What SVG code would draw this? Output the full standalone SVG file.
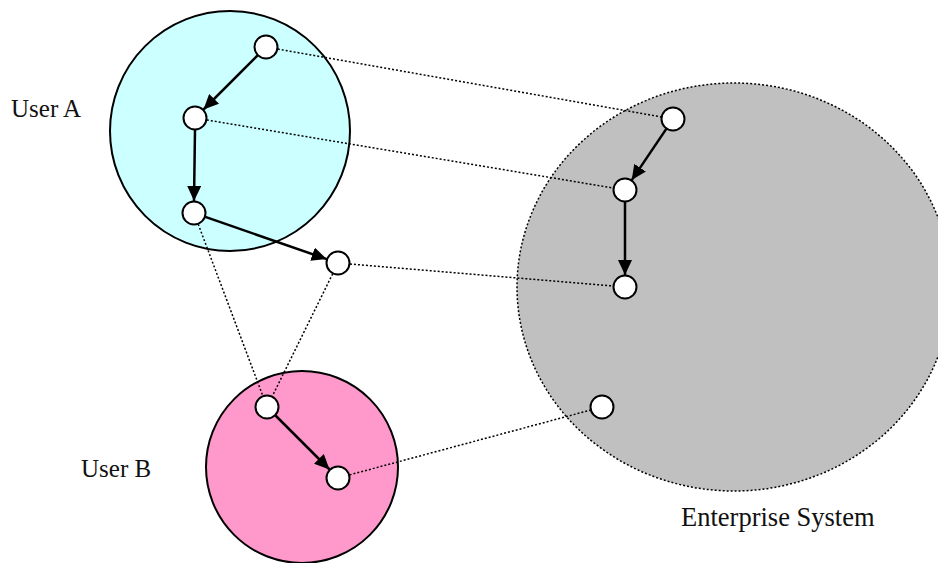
<svg xmlns="http://www.w3.org/2000/svg" width="938" height="563" viewBox="0 0 938 563">
<defs>
<style>
.lbl{font-family:"Liberation Serif","Times New Roman",serif;font-size:25px;fill:#111}
.node{fill:#fff;stroke:#000;stroke-width:2}
.dot{fill:none;stroke:#000;stroke-width:1.5;stroke-dasharray:2 2}
.arr{fill:none;stroke:#000;stroke-width:2.5;marker-end:url(#ah)}
</style>
<marker id="ah" markerUnits="userSpaceOnUse" markerWidth="16" markerHeight="14" refX="15" refY="7" orient="auto">
<path d="M0,0 L15,7 L0,14 Z" fill="#000"/>
</marker>
</defs>
<rect width="938" height="563" fill="#fff"/>
<g id="userA">
<circle cx="230" cy="131" r="120" fill="#CCFFFF" stroke="#000" stroke-width="2"/>
<text class="lbl" x="11" y="117">User A</text>
</g>
<g id="userB">
<circle cx="302" cy="467" r="96" fill="#FF99CC" stroke="#000" stroke-width="2"/>
<text class="lbl" x="81" y="477">User B</text>
</g>
<g id="enterprise">
<ellipse cx="734" cy="287" rx="217" ry="204" fill="#C0C0C0" stroke="#000" stroke-width="1.5" stroke-dasharray="2 2"/>
<text class="lbl" x="681" y="526" style="font-size:26.5px">Enterprise System</text>
</g>
<g id="connectors">
<line class="dot" x1="266" y1="47" x2="673" y2="119"/>
<line class="dot" x1="195" y1="118" x2="625" y2="190"/>
<line class="dot" x1="338" y1="263" x2="625" y2="287"/>
<line class="dot" x1="194" y1="213" x2="267" y2="407"/>
<line class="dot" x1="338" y1="263" x2="267" y2="407"/>
<line class="dot" x1="338" y1="478" x2="602" y2="407"/>
<line class="arr" x1="257.5" y1="55.5" x2="203.5" y2="109.5"/>
<line class="arr" x1="195" y1="130" x2="194" y2="201"/>
<line class="arr" x1="205.3" y1="216.9" x2="326.7" y2="259.1"/>
<line class="arr" x1="666.3" y1="128.9" x2="631.7" y2="180.1"/>
<line class="arr" x1="625" y1="202" x2="625" y2="275"/>
<line class="arr" x1="275.5" y1="415.5" x2="329.5" y2="469.5"/>
</g>
<g id="a1"><circle class="node" cx="266" cy="47" r="11.5"/></g>
<g id="a2"><circle class="node" cx="195" cy="118" r="11.5"/></g>
<g id="a3"><circle class="node" cx="194" cy="213" r="11.5"/></g>
<g id="m"><circle class="node" cx="338" cy="263" r="11.5"/></g>
<g id="e1"><circle class="node" cx="673" cy="119" r="11.5"/></g>
<g id="e2"><circle class="node" cx="625" cy="190" r="11.5"/></g>
<g id="e3"><circle class="node" cx="625" cy="287" r="11.5"/></g>
<g id="e4"><circle class="node" cx="602" cy="407" r="11.5"/></g>
<g id="b1"><circle class="node" cx="267" cy="407" r="11.5"/></g>
<g id="b2"><circle class="node" cx="338" cy="478" r="11.5"/></g>
</svg>
